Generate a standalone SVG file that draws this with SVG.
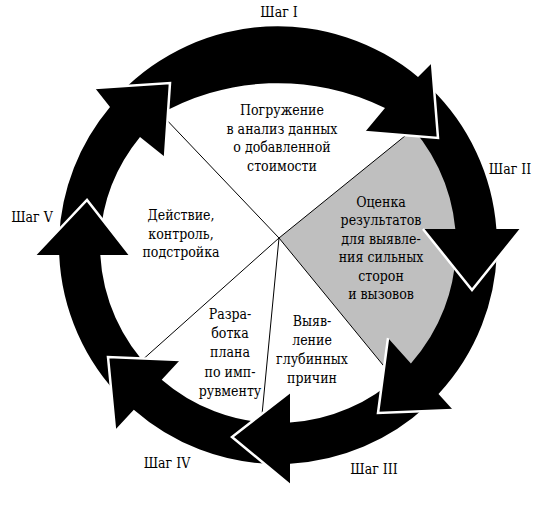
<svg xmlns="http://www.w3.org/2000/svg" width="544" height="508" viewBox="0 0 544 508">
<style>
  text { font-family: "DejaVu Serif Condensed", "DejaVu Serif", serif; font-stretch: condensed; font-size: 14px; fill: #000; text-anchor: middle; }
  .div { stroke: #000; stroke-width: 1; fill: none; }
  .arrow { fill: #000; stroke: none; }
  .edge { fill: none; stroke: #fff; stroke-width: 2.5; stroke-linejoin: miter; }
</style>
<rect width="544" height="508" fill="#fff"/>
<g id="pie">
  <path d="M279,238 L421,123 A188 188 0 0 1 401.1,387.1 Z" fill="#bfbfbf"/>
  <path class="div" d="M279,238 L162,115 M279,238 L421,123 M279,238 L401.1,387.1 M279,238 L261,425 M279,238 L140,362"/>
</g>
<g id="connectors">
  <path class="arrow" d="M59.1,237.4 A219 219 0 0 1 110,107 L95,88 L170,83 L165,157 L140,137 A178 178 0 0 0 100.1,238.8 Z"/>
  <path class="arrow" d="M120.5,92.9 A219 219 0 0 1 418,77 L432,63 L438,138 L365,132 L385,108 A241.5 241.5 0 0 0 155,117 Z"/>
  <path class="arrow" d="M430.1,87.5 A219 219 0 0 1 496.4,229 L521,229 L472,290 L423,229 L455.3,229 A178 178 0 0 0 401.7,117 Z"/>
  <path class="arrow" d="M497,245 A219 219 0 0 1 438.5,394 L453,410 L378,413 L388,338 L410.9,363.4 A178 178 0 0 0 456,245 Z"/>
  <path class="arrow" d="M427.4,405.2 A219 219 0 0 1 290,463.7 L290,485 L232,437 L290,392 L290,422.6 A178 178 0 0 0 399.4,375.2 Z"/>
  <path class="arrow" d="M274.2,464 A219 219 0 0 1 133.8,409.8 L115,430 L108,357 L180,360 L161.7,379.7 A178 178 0 0 0 274.9,423 Z"/>
  <path class="arrow" d="M123.1,399.9 A219 219 0 0 1 59.2,255 L35,255 L87,200 L130,255 L100.3,255 A178 178 0 0 0 152.1,370.9 Z"/>
  <polyline class="edge" points="95,88 170,83 165,157"/>
  <polyline class="edge" points="432,63 438,138 365,132"/>
  <polyline class="edge" points="423,229 472,290 521,229"/>
  <polyline class="edge" points="388,338 378,413 453,410"/>
  <polyline class="edge" points="290,392 232,437 290,485"/>
  <polyline class="edge" points="180,360 108,357 115,430"/>
  <polyline class="edge" points="35,255 87,200 130,255"/>
</g>
<g id="stage1">
  <text x="282" y="115">Погружение</text>
  <text x="282" y="133.5">в анализ данных</text>
  <text x="282" y="152">о добавленной</text>
  <text x="282" y="170.5">стоимости</text>
</g>
<g id="stage2">
  <text x="381" y="206.7">Оценка</text>
  <text x="381" y="225.2">результатов</text>
  <text x="381" y="243.7">для выявле-</text>
  <text x="381" y="262.2">ния сильных</text>
  <text x="381" y="280.7">сторон</text>
  <text x="381" y="299.2">и вызовов</text>
</g>
<g id="stage3">
  <text x="312" y="326">Выяв-</text>
  <text x="312" y="345">ление</text>
  <text x="312" y="364">глубинных</text>
  <text x="312" y="382.7">причин</text>
</g>
<g id="stage4">
  <text x="230" y="319.3">Разра-</text>
  <text x="230" y="338.3">ботка</text>
  <text x="230" y="357.3">плана</text>
  <text x="230" y="376.7">по имп-</text>
  <text x="230" y="396">рувменту</text>
</g>
<g id="stage5">
  <text x="181" y="220">Действие,</text>
  <text x="181" y="238.5">контроль,</text>
  <text x="181" y="257">подстройка</text>
</g>
<g id="step1"><text x="279" y="17">Шаг I</text></g>
<g id="step2"><text x="510" y="174">Шаг II</text></g>
<g id="step3"><text x="374" y="474">Шаг III</text></g>
<g id="step4"><text x="167" y="468">Шаг IV</text></g>
<g id="step5"><text x="32" y="222">Шаг V</text></g>
</svg>
